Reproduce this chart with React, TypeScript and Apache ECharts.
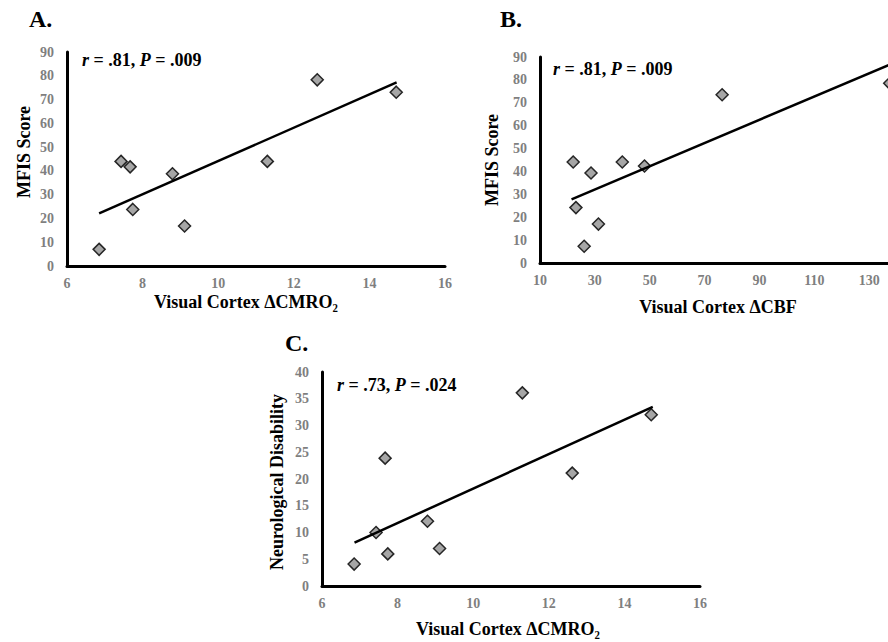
import React, { useEffect, useRef } from "react";
import * as echarts from "echarts";

// Panel A & C x values (Visual Cortex ΔCMRO2)
const cmroX = [6.85, 7.43, 7.67, 7.74, 8.79, 9.11, 11.3, 12.62, 14.71];
// Panel A: MFIS score
const mfisA = [7.0, 44.0, 41.7, 23.8, 38.8, 16.8, 44.0, 78.3, 73.1];
// Panel B: Visual Cortex ΔCBF and MFIS score
const cbfX = [22.1, 23.1, 26.1, 28.6, 31.3, 40.0, 48.1, 76.4, 137.5];
const mfisB = [44.1, 24.2, 7.3, 39.3, 17.0, 44.1, 42.4, 73.5, 78.5];
// Panel C: neurological disability
const disabilityC = [4.1, 10.0, 23.9, 6.0, 12.1, 7.0, 36.1, 21.1, 32.0];

// Trend line end points
const trendA = [[6.85, 22.1], [14.72, 77.2]];
const trendB = [[21.5, 27.8], [137.5, 86.7]];
const trendC = [[6.86, 8.1], [14.75, 33.5]];

const FONT = "'Liberation Serif', 'Times New Roman', serif";
const GRAY = "#7f7f7f";

function xAxisCfg(gridIndex: number, min: number, max: number, interval: number, showMax = true) {
  return {
    type: "value",
    gridIndex,
    min,
    max,
    interval,
    splitLine: { show: false },
    axisTick: { show: false },
    axisLine: { show: true, onZero: false, lineStyle: { color: "#000", width: 3 } },
    axisLabel: {
      color: GRAY,
      fontWeight: "bold",
      fontFamily: FONT,
      fontSize: 14,
      margin: 10,
      showMaxLabel: showMax,
    },
  };
}
function yAxisCfg(gridIndex: number, min: number, max: number, interval: number) {
  return {
    type: "value",
    gridIndex,
    min,
    max,
    interval,
    splitLine: { show: false },
    axisTick: { show: false },
    axisLine: { show: true, onZero: false, lineStyle: { color: "#000", width: 3 } },
    axisLabel: { color: GRAY, fontWeight: "bold", fontFamily: FONT, fontSize: 14, margin: 13 },
  };
}

function scatter(i: number, xs: number[], ys: number[]) {
  return {
    type: "scatter",
    xAxisIndex: i,
    yAxisIndex: i,
    symbol: "diamond",
    symbolSize: 12,
    itemStyle: { color: "#a6a6a6", borderColor: "#262626", borderWidth: 1.5, opacity: 1 },
    data: xs.map((x, k) => [x, ys[k]]),
    z: 2,
  };
}
function trend(i: number, pts: number[][]) {
  return {
    type: "line",
    xAxisIndex: i,
    yAxisIndex: i,
    showSymbol: false,
    symbol: "none",
    lineStyle: { color: "#000", width: 2.5 },
    data: pts,
    z: 3,
  };
}

function txt(text: string, x: number, y: number, size: number, opts: any = {}) {
  return {
    type: "text",
    x,
    y,
    rotation: opts.rotation || 0,
    style: {
      text,
      fontFamily: FONT,
      fontWeight: "bold",
      fontSize: size,
      fill: "#000",
      textAlign: opts.align || "center",
      textVerticalAlign: "middle",
    },
  };
}

function stat(text: string, x: number, y: number) {
  return {
    type: "text",
    x,
    y,
    style: {
      text,
      fontFamily: FONT,
      fontWeight: "bold",
      fontSize: 18,
      fill: "#000",
      textAlign: "left",
      textVerticalAlign: "middle",
      rich: {
        i: { fontFamily: FONT, fontWeight: "bold", fontStyle: "italic", fontSize: 18, fill: "#000" },
        n: { fontFamily: FONT, fontWeight: "bold", fontSize: 18, fill: "#000" },
      },
    },
  };
}

export default function App() {
  const ref = useRef<HTMLDivElement>(null);
  useEffect(() => {
    if (!ref.current) return;
    const chart = echarts.init(ref.current, null, { renderer: "svg" });
    chart.setOption({
      animation: false,
      backgroundColor: "#fff",
      grid: [
        { left: 67, top: 52, width: 378, height: 214, outerBoundsMode: "none", containLabel: false },
        { left: 540, top: 57, width: 384, height: 206, outerBoundsMode: "none", containLabel: false },
        { left: 322, top: 372, width: 378, height: 214, outerBoundsMode: "none", containLabel: false },
      ],
      xAxis: [xAxisCfg(0, 6, 16, 2), xAxisCfg(1, 10, 150, 20, false), xAxisCfg(2, 6, 16, 2)],
      yAxis: [yAxisCfg(0, 0, 90, 10), yAxisCfg(1, 0, 90, 10), yAxisCfg(2, 0, 40, 5)],
      series: [
        scatter(0, cmroX, mfisA),
        trend(0, trendA),
        scatter(1, cbfX, mfisB),
        trend(1, trendB),
        scatter(2, cmroX, disabilityC),
        trend(2, trendC),
      ],
      graphic: [
        txt("A.", 29, 19, 24, { align: "left" }),
        txt("B.", 500, 19, 24, { align: "left" }),
        txt("C.", 285, 343, 24, { align: "left" }),
        stat("{i|r}{n| = .81, }{i|P}{n| = .009}", 82, 60),
        stat("{i|r}{n| = .81, }{i|P}{n| = .009}", 553, 69),
        stat("{i|r}{n| = .73, }{i|P}{n| = .024}", 337, 385),
        txt("MFIS Score", 24, 152, 18, { rotation: Math.PI / 2 }),
        txt("MFIS Score", 492, 160, 18, { rotation: Math.PI / 2 }),
        txt("Neurological Disability", 277, 482, 18, { rotation: Math.PI / 2 }),
        txt("Visual Cortex ΔCMRO₂", 246, 302, 18),
        txt("Visual Cortex ΔCBF", 718, 307, 18),
        txt("Visual Cortex ΔCMRO₂", 508, 629, 18),
      ],
    });
    return () => chart.dispose();
  }, []);
  return (
    <div
      ref={ref}
      style={{ position: "absolute", left: 0, top: 0, width: 888, height: 642, overflow: "hidden" }}
    />
  );
}
